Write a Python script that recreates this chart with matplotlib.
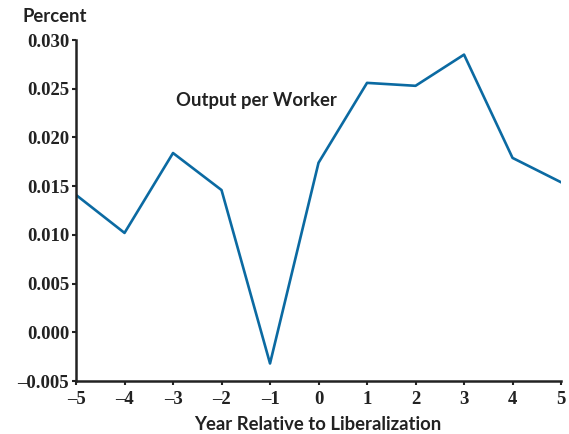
import matplotlib.pyplot as plt

years = [-5, -4, -3, -2, -1, 0, 1, 2, 3, 4, 5]
output_per_worker = [0.0141, 0.0102, 0.0184, 0.0146, -0.0032, 0.0174,
                     0.0256, 0.0253, 0.0285, 0.0179, 0.0154]
yticks = [-0.005, 0.000, 0.005, 0.010, 0.015, 0.020, 0.025, 0.030]

line_color = "#0b6aa2"
label_font = "Lato"
tick_font = "Liberation Serif"

fig = plt.figure(figsize=(5.69, 4.34), dpi=100)
ax = fig.add_axes([0.1336, 0.1221, 0.8524, 0.7857])

ax.plot(years, output_per_worker, color=line_color, linewidth=1.9)
ax.set_xlim(-5, 5)
ax.set_ylim(-0.005, 0.030)

ax.set_xticks(years)
ax.set_xticklabels([str(y).replace("-", "\u2013") for y in years],
                   fontfamily=tick_font, fontweight="bold", fontsize=13.5, color="#222222")
ax.set_yticks(yticks)
ax.set_yticklabels([f"{v:.3f}".replace("-", "\u2013") for v in yticks],
                   fontfamily=tick_font, fontweight="bold", fontsize=13.5, color="#222222")

for side in ["top", "right"]:
    ax.spines[side].set_visible(False)
for side in ["left", "bottom"]:
    ax.spines[side].set_linewidth(1.8)
    ax.spines[side].set_color("#222222")
ax.tick_params(direction="out", length=3, width=1.5, color="#222222", pad=2)
ax.tick_params(axis="x", pad=4)

ax.text(-2.94, 0.0238, "Output per Worker", fontfamily=label_font, fontweight="bold",
        fontsize=13.3, color="#222222", va="center", ha="left")
fig.text(22 / 569, 1 - 16 / 434, "Percent", fontfamily=label_font, fontweight="bold",
         fontsize=13.3, color="#222222", va="center", ha="left")
fig.text(318 / 569, 1 - 424 / 434, "Year Relative to Liberalization", fontfamily=label_font,
         fontweight="bold", fontsize=13.3, color="#222222", va="center", ha="center")

fig.savefig("out.png", dpi=100)
